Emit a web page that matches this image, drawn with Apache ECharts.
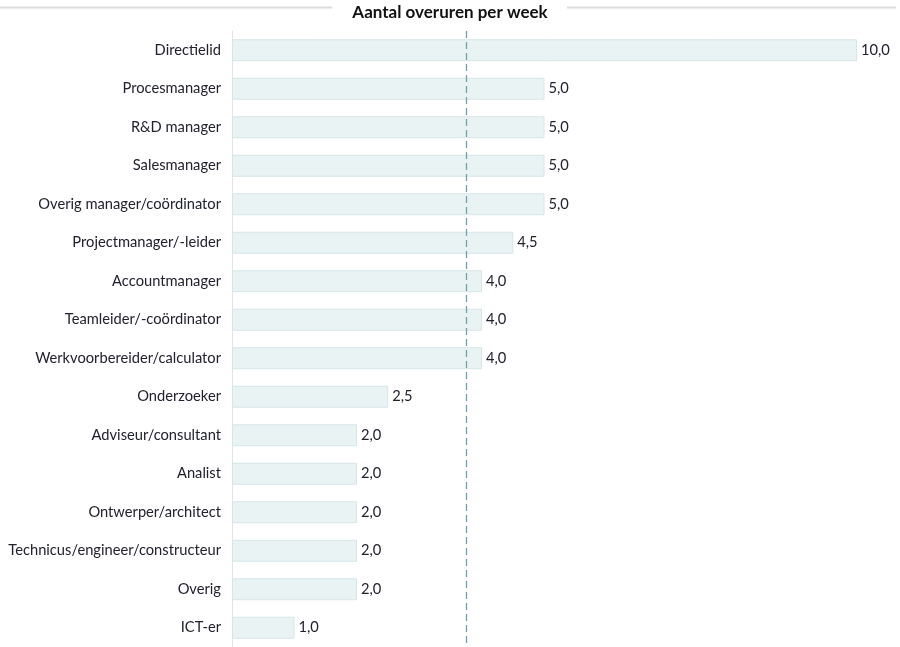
<!DOCTYPE html>
<html><head><meta charset="utf-8">
<script src="https://cdn.jsdelivr.net/npm/echarts@6/dist/echarts.min.js"></script>
<style>html,body{margin:0;padding:0;background:#fff}#c{width:900px;height:647px}</style>
</head><body><div id="c"></div>
<script>
const title = 'Aantal overuren per week';
const categories = ['Directielid','Procesmanager','R&D manager','Salesmanager','Overig manager/coördinator','Projectmanager/-leider','Accountmanager','Teamleider/-coördinator','Werkvoorbereider/calculator','Onderzoeker','Adviseur/consultant','Analist','Ontwerper/architect','Technicus/engineer/constructeur','Overig','ICT-er'];
const values = [10.0,5.0,5.0,5.0,5.0,4.5,4.0,4.0,4.0,2.5,2.0,2.0,2.0,2.0,2.0,1.0];
const average = 3.75;

const chart = echarts.init(document.getElementById('c'));
const font = 'Lato, "Open Sans", sans-serif';
chart.setOption({
  animation: false,
  textStyle: {fontFamily: font},
  title: {text: title, left: 'center', top: -1,
    textStyle: {fontFamily: font, fontSize: 17, fontWeight: 'bold', color: '#111'}},
  graphic: [
    {type: 'line', shape: {x1: 0, y1: 7.5, x2: 332, y2: 7.5}, style: {stroke: '#dcdcdc', lineWidth: 2}},
    {type: 'line', shape: {x1: 567, y1: 7.5, x2: 896, y2: 7.5}, style: {stroke: '#dcdcdc', lineWidth: 2}}
  ],
  grid: {left: 232, right: 43, top: 31, bottom: -4, containLabel: false},
  xAxis: {type: 'value', min: 0, max: 10, show: false},
  yAxis: {type: 'category', data: categories, inverse: true,
    axisLine: {show: true, lineStyle: {color: '#e3e3e3', width: 1}},
    axisTick: {show: false},
    axisLabel: {color: '#22222e', fontSize: 14.7, margin: 11, fontFamily: font}},
  series: [{
    type: 'bar', data: values, barCategoryGap: '43%',
    itemStyle: {color: '#eaf3f4', borderColor: '#d6e6e8', borderWidth: 1},
    label: {show: true, position: 'right', distance: 4, color: '#22222e', fontSize: 14.7, fontFamily: font,
      formatter: p => p.value.toFixed(1).replace('.', ',')},
    markLine: {silent: true, symbol: 'none', label: {show: false}, z: 10,
      lineStyle: {color: '#6fa3ab', type: [7, 4], width: 1.3},
      data: [{xAxis: average}]}
  }]
});
</script></body></html>
